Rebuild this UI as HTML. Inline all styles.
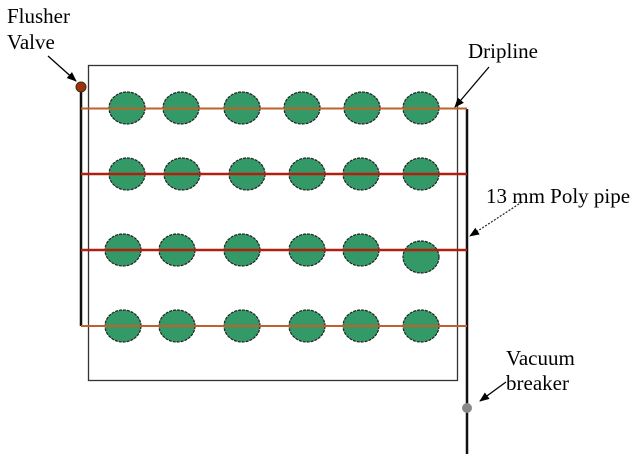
<!DOCTYPE html>
<html><head><style>
html,body{margin:0;padding:0;background:#fff;width:642px;height:454px;overflow:hidden}
text{font-family:"Liberation Serif",serif;font-size:21px;fill:#000}
</style></head><body>
<svg width="642" height="454" viewBox="0 0 642 454" xmlns="http://www.w3.org/2000/svg">
<defs>
<marker id="ah" markerWidth="10" markerHeight="10" refX="9" refY="5" orient="auto" markerUnits="userSpaceOnUse">
<path d="M0,1 L10,5 L0,9 Z" fill="#000"/></marker>
</defs>
<rect x="88.5" y="65.5" width="369" height="315" fill="none" stroke="#333" stroke-width="1.3"/>
<line x1="81" y1="87" x2="81" y2="326" stroke="#111" stroke-width="2.5"/>
<line x1="467" y1="109" x2="467" y2="454" stroke="#111" stroke-width="2.5"/>
<g fill="#339966" stroke="#222" stroke-width="1.2" stroke-dasharray="3,1">
<ellipse cx="127" cy="108" rx="18" ry="16"/><ellipse cx="181" cy="108" rx="18" ry="16"/><ellipse cx="242" cy="108" rx="18" ry="16"/><ellipse cx="302" cy="108" rx="18" ry="16"/><ellipse cx="362" cy="108" rx="18" ry="16"/><ellipse cx="421" cy="108" rx="18" ry="16"/>
<ellipse cx="127" cy="174" rx="18" ry="16"/><ellipse cx="182" cy="174" rx="18" ry="16"/><ellipse cx="247" cy="174" rx="18" ry="16"/><ellipse cx="307" cy="174" rx="18" ry="16"/><ellipse cx="361" cy="174" rx="18" ry="16"/><ellipse cx="421" cy="174" rx="18" ry="16"/>
<ellipse cx="123" cy="250" rx="18" ry="16"/><ellipse cx="177" cy="250" rx="18" ry="16"/><ellipse cx="242" cy="250" rx="18" ry="16"/><ellipse cx="307" cy="250" rx="18" ry="16"/><ellipse cx="361" cy="250" rx="18" ry="16"/><ellipse cx="421" cy="257" rx="18" ry="16"/>
<ellipse cx="123" cy="326" rx="18" ry="16"/><ellipse cx="177" cy="326" rx="18" ry="16"/><ellipse cx="242" cy="326" rx="18" ry="16"/><ellipse cx="307" cy="326" rx="18" ry="16"/><ellipse cx="361" cy="326" rx="18" ry="16"/><ellipse cx="421" cy="326" rx="18" ry="16"/>
</g>
<line x1="81" y1="108.5" x2="467" y2="108.5" stroke="#c0602a" stroke-width="2"/>
<line x1="81" y1="174" x2="467" y2="174" stroke="#b02010" stroke-width="2.5"/>
<line x1="81" y1="250" x2="467" y2="250" stroke="#b02010" stroke-width="2.5"/>
<line x1="81" y1="326" x2="467" y2="326" stroke="#c0602a" stroke-width="2"/>
<circle cx="81" cy="87" r="5" fill="#a03010" stroke="#331" stroke-width="1"/>
<circle cx="467" cy="408" r="5" fill="#888"/>
<line x1="48" y1="56" x2="76" y2="81" stroke="#000" stroke-width="1.3" marker-end="url(#ah)"/>
<line x1="489" y1="67" x2="455" y2="107" stroke="#000" stroke-width="1.3" marker-end="url(#ah)"/>
<line x1="522" y1="202" x2="470" y2="236" stroke="#222" stroke-width="1.2" stroke-dasharray="2,1.5" marker-end="url(#ah)"/>
<line x1="506" y1="382" x2="480" y2="401" stroke="#000" stroke-width="1.3" marker-end="url(#ah)"/>
<text x="7" y="23">Flusher</text>
<text x="7" y="49">Valve</text>
<text x="468" y="58">Dripline</text>
<text x="486" y="203">13 mm Poly pipe</text>
<text x="506" y="365">Vacuum</text>
<text x="506" y="390">breaker</text>
</svg>
</body></html>
